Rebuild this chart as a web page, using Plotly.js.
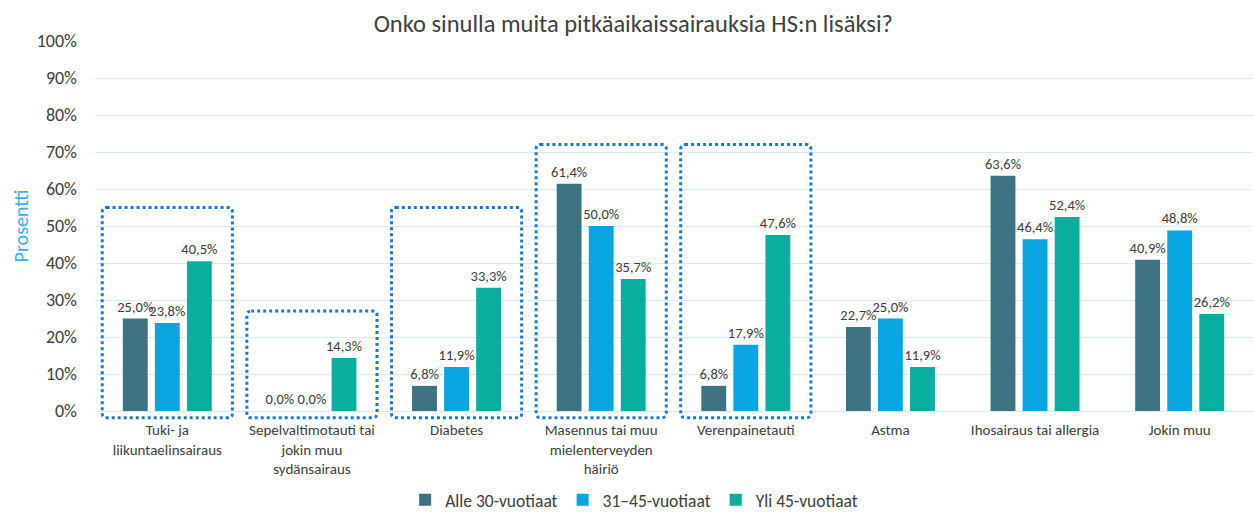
<!DOCTYPE html>
<html>
<head>
<meta charset="utf-8">
<script src="https://cdn.plot.ly/plotly-3.0.1.min.js"></script>
<style>html,body{margin:0;padding:0;background:#fff;}#chart{width:1254px;height:512px;}</style>
</head>
<body>
<div id="chart"></div>
<script>
const categories = [
  "Tuki- ja<br>liikuntaelinsairaus",
  "Sepelvaltimotauti tai<br>jokin muu<br>sydänsairaus",
  "Diabetes",
  "Masennus tai muu<br>mielenterveyden<br>häiriö",
  "Verenpainetauti",
  "Astma",
  "Ihosairaus tai allergia",
  "Jokin muu"
];
const seriesNames = ["Alle 30-vuotiaat", "31–45-vuotiaat", "Yli 45-vuotiaat"];
const under30 = [25.0, 0.0, 6.8, 61.4, 6.8, 22.7, 63.6, 40.9];
const age31to45 = [23.8, 0.0, 11.9, 50.0, 17.9, 25.0, 46.4, 48.8];
const over45 = [40.5, 14.3, 33.3, 35.7, 47.6, 11.9, 52.4, 26.2];
const highlighted = [0, 1, 2, 3, 4];
const boxTops = [55, 27, 55, 72, 72];
const colors = ["#3d7380", "#08a6e0", "#0aae9f"];

const font = "Carlito, Lato, 'Liberation Sans', sans-serif";
const fmt = v => v.toFixed(1).replace('.', ',') + '%';
const seriesData = [under30, age31to45, over45];

const traces = seriesData.map((vals, i) => ({
  type: 'bar',
  name: seriesNames[i],
  x: categories,
  y: vals,
  marker: {color: colors[i]},
  text: vals.map(fmt),
  textposition: 'outside',
  constraintext: 'none',
  textfont: {family: font, size: 14.5, color: '#404040'},
  cliponaxis: false,
  hoverinfo: 'none'
}));

// rounded dotted boxes: x in category units, y in paper units
const rx = 0.03, ry = 0.012;
const shapes = highlighted.map((ci, k) => {
  const x0 = ci - 0.45, x1 = ci + 0.45, y0 = -0.018, y1 = boxTops[k] / 100;
  const path = `M ${x0 + rx} ${y1} L ${x1 - rx} ${y1} Q ${x1} ${y1} ${x1} ${y1 - ry} ` +
    `L ${x1} ${y0 + ry} Q ${x1} ${y0} ${x1 - rx} ${y0} L ${x0 + rx} ${y0} Q ${x0} ${y0} ${x0} ${y0 + ry} ` +
    `L ${x0} ${y1 - ry} Q ${x0} ${y1} ${x0 + rx} ${y1} Z`;
  return {
    type: 'path', xref: 'x', yref: 'paper', path: path,
    line: {color: '#1f78c8', width: 3, dash: 'dot'},
    fillcolor: 'rgba(0,0,0,0)', layer: 'above'
  };
});

const layout = {
  width: 1254, height: 512,
  margin: {l: 95, r: 2, t: 41, b: 101, autoexpand: false},
  paper_bgcolor: '#fff', plot_bgcolor: '#fff',
  title: {text: 'Onko sinulla muita pitkäaikaissairauksia HS:n lisäksi?', font: {family: font, size: 24.5, color: '#404040'}, x: 0.505, xanchor: 'center', y: 0.955, yanchor: 'middle'},
  barmode: 'group',
  bargap: 0.335,
  bargroupgap: 0.225,
  showlegend: true,
  legend: {orientation: 'h', x: 0.466, xanchor: 'center', y: -0.2405, yanchor: 'middle', font: {family: font, size: 17.5, color: '#404040'}, traceorder: 'normal', itemwidth: 30},
  xaxis: {
    type: 'category', automargin: false,
    tickfont: {family: font, size: 15, color: '#404040'},
    ticklabelstandoff: 8,
    showgrid: false, showline: false, ticks: '', zeroline: false,
    range: [-0.5, 7.5]
  },
  yaxis: {
    range: [0, 100], automargin: false,
    dtick: 10,
    ticksuffix: '%',
    tickfont: {family: font, size: 18, color: '#404040'},
    ticklabelstandoff: 17,
    gridcolor: '#d7ebf8', gridwidth: 1,
    zeroline: true, zerolinecolor: '#d7ebf8', zerolinewidth: 1,
    showline: false,
    title: {text: 'Prosentti', font: {family: font, size: 20, color: '#3bb0ef'}, standoff: 2}
  },
  shapes: shapes
};

Plotly.newPlot('chart', traces, layout, {displayModeBar: false, staticPlot: true});
</script>
</body>
</html>
